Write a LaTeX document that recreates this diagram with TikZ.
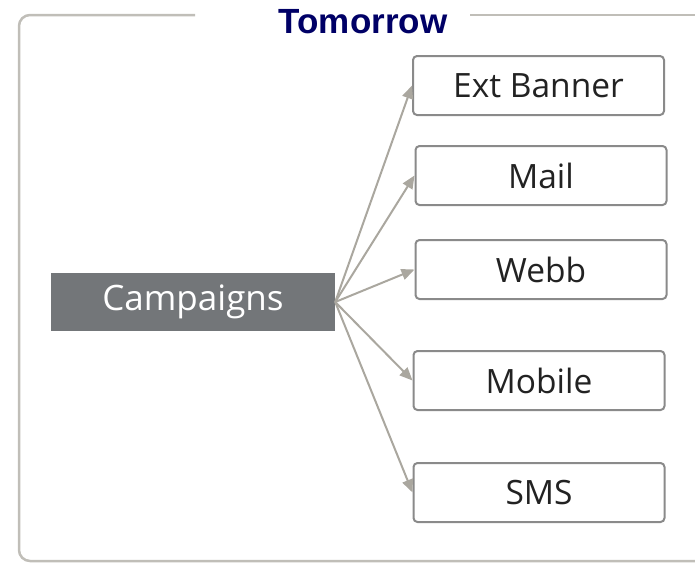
\documentclass[tikz,border=0pt]{standalone}
\usepackage{fontspec}
\setmainfont{Open Sans}
\newfontfamily\titlefont{Liberation Sans}
\usetikzlibrary{arrows.meta}
\definecolor{framegray}{RGB}{192,190,184}
\definecolor{boxgray}{RGB}{138,138,138}
\definecolor{campgray}{RGB}{115,118,121}
\definecolor{arrowgray}{RGB}{170,167,159}
\definecolor{titleblue}{RGB}{0,0,102}
\definecolor{textdark}{RGB}{34,34,34}

\begin{document}
\begin{tikzpicture}[x=1pt, y=-1pt,
    channel/.style={draw=boxgray, line width=2pt, rounded corners=4pt, fill=white,
        minimum width=251pt, minimum height=59pt, text=textdark,
        font=\fontsize{33.5}{33.5}\selectfont},
    source/.style={fill=campgray, minimum width=284pt, minimum height=58pt,
        text=white, font=\fontsize{35}{35}\selectfont},
    feed/.style={draw=arrowgray, line width=2pt,
        -{Triangle[length=13pt, width=11pt]}}]
    \useasboundingbox (0,0) rectangle (695,562);
    \begin{scope}
    \clip (0,0) rectangle (695,562);
    % outer frame, open at the top for the title
    \draw[framegray, line width=2.5pt, rounded corners=11pt]
        (195,15) -- (19,15) -- (19,561) -- (720,561);
    \draw[framegray, line width=2.5pt] (470,15) -- (700,15);
    \end{scope}
    \node[font=\titlefont\bfseries\fontsize{35}{35}\selectfont,
        text=titleblue] (title) at (363,22) {Tomorrow};

    \node[source] (campaigns) at (193,302) {Campaigns};

    \node[channel] (banner) at (538.5,85.5) {Ext Banner};
    \node[channel] (mail) at (541,175.5) {Mail};
    \node[channel] (webb) at (541,269.5) {Webb};
    \node[channel] (mobile) at (539,380.5) {Mobile};
    \node[channel] (sms) at (539,492.5) {SMS};

    % one arrow per channel
    \foreach \target in {banner, mail, webb, mobile, sms}
        \draw[feed] (campaigns.east) -- (\target.west);
\end{tikzpicture}
\end{document}
